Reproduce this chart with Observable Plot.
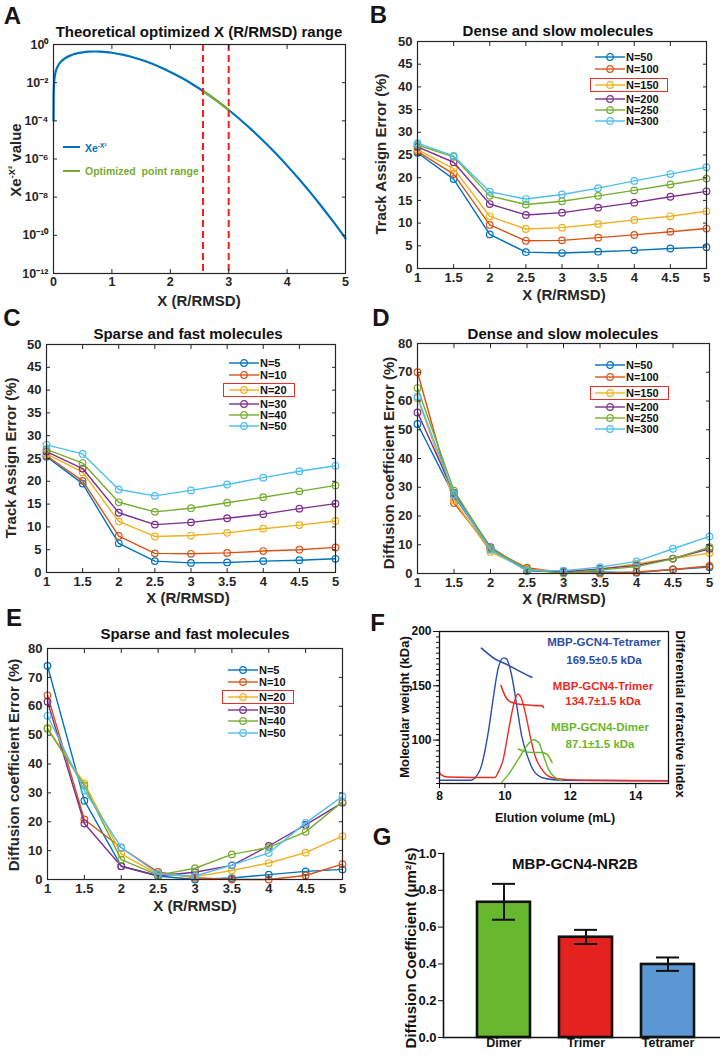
<!DOCTYPE html>
<html><head><meta charset="utf-8">
<script src="https://cdn.jsdelivr.net/npm/d3@7"></script>
<script src="https://cdn.jsdelivr.net/npm/@observablehq/plot@0.6"></script>
<style>
body{margin:0;background:#fff;}
#fig{position:relative;width:723px;height:1057px;overflow:hidden;background:#fff;font-family:"Liberation Sans",Arial,sans-serif;font-weight:bold;}
.abs{position:absolute;white-space:nowrap;line-height:1;}
.c{transform:translate(-50%,-50%);}
.letter{font-size:24px;color:#151515;}
.title{font-size:15px;color:#111;}
.xlab{font-size:15px;color:#262626;}
.ylab{font-size:15px;color:#262626;transform:translate(-50%,-50%) rotate(-90deg);}
.ylabr{transform:translate(-50%,-50%) rotate(90deg);}
.leg{font-size:11px;color:#111;transform:translateY(-50%);}
sup{font-size:0.62em;vertical-align:0.55em;line-height:0;}
</style></head>
<body><div id="fig"></div>
<script>
// ---------------- DATA ----------------
// Panel A: X·e^(-X²)
const aX = [0.0001,0.002,0.01,0.03,0.06,0.1,0.2,0.3,0.4,0.5,0.6,0.707,0.8,0.9,1.0,1.2,1.4,1.6,1.8,2.0,2.2,2.4,2.56,2.8,3.0,3.2,3.4,3.6,3.8,4.0,4.2,4.4,4.6,4.8,5.0];
const aY = [1e-4,2e-3,0.01,0.03,0.06,0.099,0.192,0.274,0.341,0.389,0.419,0.429,0.422,0.400,0.368,0.284,0.197,0.124,0.0706,0.0366,0.0174,0.00757,0.00365,0.0011,0.00037,1.14e-4,3.24e-5,8.47e-6,2.04e-6,4.5e-7,9.16e-8,1.72e-8,2.97e-9,4.73e-10,6.94e-11];
const optX = [2.56,2.7,2.8,2.9,3.0];
const optY = [0.00365,0.00184,0.0011,0.000646,0.00037];
const rangeBounds = [2.56,3.0];
const aYTicks = [1,1e-2,1e-4,1e-6,1e-8,1e-10,1e-12];
const aXTicks = [0,1,2,3,4,5];

// Panels B–E
const xR = [1,1.5,2,2.5,3,3.5,4,4.5,5];
const denseN = ["N=50","N=100","N=150","N=200","N=250","N=300"];
const sparseN = ["N=5","N=10","N=20","N=30","N=40","N=50"];
const trackDense = [
  [25.5,19.7,7.5,3.6,3.4,3.7,4.0,4.4,4.7],
  [25.8,20.8,9.6,6.1,6.2,6.8,7.4,8.1,8.8],
  [26.2,22.0,11.5,8.7,9.0,9.8,10.7,11.5,12.6],
  [26.8,23.4,14.2,11.8,12.3,13.4,14.5,15.8,17.0],
  [27.2,24.6,16.0,14.1,14.8,16.0,17.2,18.5,19.8],
  [27.6,24.8,16.9,15.3,16.3,17.7,19.3,20.8,22.3]
];
const trackSparse = [
  [25.4,19.5,6.4,2.5,2.1,2.2,2.5,2.7,3.0],
  [25.6,20.1,8.0,4.2,4.1,4.3,4.7,5.0,5.5],
  [26.0,22.0,11.2,7.9,8.1,8.7,9.6,10.4,11.3],
  [26.5,22.8,13.1,10.5,11.0,11.9,12.8,14.0,15.1],
  [27.0,24.0,15.4,13.3,14.1,15.3,16.5,17.8,19.1],
  [28.0,26.0,18.2,16.8,18.0,19.3,20.8,22.2,23.4]
];
const diffDense = [
  [52.0,27.0,8.5,1.0,0.8,0.5,0.3,1.4,2.2],
  [70.0,24.5,8.5,2.0,0.3,0.0,0.5,1.4,2.6],
  [61.0,25.5,7.5,1.5,0.5,1.5,3.4,5.2,7.1],
  [56.0,28.0,9.2,1.0,0.5,1.6,2.8,5.2,8.6],
  [64.5,28.8,8.8,1.5,0.0,1.2,2.4,5.1,9.2],
  [61.5,27.5,8.2,1.0,1.0,2.2,4.2,8.6,12.9]
];
const diffSparse = [
  [74.0,27.3,4.6,1.2,0.0,0.5,1.7,2.8,3.5],
  [63.8,20.8,11.0,2.6,0.6,0.0,0.0,1.4,5.3],
  [52.5,33.3,8.9,1.8,1.0,3.1,5.7,9.3,15.0],
  [61.6,19.4,4.6,1.3,2.5,4.9,11.6,18.9,26.6],
  [52.2,32.5,6.9,1.5,3.9,8.7,11.1,16.5,26.9],
  [56.7,30.8,11.1,2.0,1.2,5.0,9.2,19.6,28.8]
];
const trackTicks = [0,5,10,15,20,25,30,35,40,45,50];
const diffTicks = [0,10,20,30,40,50,60,70,80];

// Panel F: SEC-MALS traces [elution volume, value]
const tetramerRI = [[8.0,63],[8.97,63],[9.08,65],[9.28,76],[9.49,107],[9.64,138],[9.79,165.5],[9.95,175.7],[10.05,174.8],[10.21,159],[10.36,132],[10.51,104],[10.72,82.5],[10.92,70],[11.23,64.6],[11.74,63],[15.0,62.5]];
const tetramerMW = [[9.28,184.6],[9.69,174.8],[10.1,169],[10.41,164],[10.82,157.8]];
const trimerRI = [[8.0,70],[8.05,68],[8.26,66],[9.69,65.5],[9.79,70],[9.95,82.5],[10.1,107],[10.26,131.7],[10.39,142.5],[10.49,139.4],[10.62,125.5],[10.77,104],[10.92,85.5],[11.13,73],[11.38,66],[11.74,64],[12.46,63],[15.0,62.5]];
const trimerMW = [[9.88,150.2],[10.0,141],[10.15,135.4],[10.41,133.2],[10.72,132.3],[10.92,131.7],[11.13,131.7],[11.18,130]];
const dimerRI = [[9.9,61],[10.15,70],[10.41,82.5],[10.67,94.8],[10.87,100.3],[11.03,97.8],[11.18,85.5],[11.33,73],[11.54,65.5],[11.74,62.5]];
const dimerMW = [[10.41,91.7],[10.62,89.2],[10.82,88.6],[11.13,88.6],[11.28,87],[11.44,79.4]];
const fXTicks = [8,10,12,14];
const fYTicks = [100,150,200];

// Panel G
const gCats = ["Dimer","Trimer","Tetramer"];
const gMeans = [0.735,0.545,0.397];
const gLow = [0.640,0.508,0.362];
const gHigh = [0.835,0.585,0.435];
const gTicks = [0,0.2,0.4,0.6,0.8,1.0];

// ---------------- STYLE ----------------
const matlab = ["#0072BD","#D95319","#EDB120","#7E2F8E","#77AC30","#4DBEEE"];
const fColors = {tet:"#2B4EA6", tri:"#EC2A25", di:"#68B82C"};
const gColors = ["#67B82D","#E4231F","#5B98D3"];
const AX = "#262626";
const FONT = '"Liberation Sans", Arial, sans-serif';

const fig = document.getElementById("fig");
function txt(html, x, y, cls, css = "") {
  const d = document.createElement("div");
  d.className = "abs " + cls;
  d.innerHTML = html;
  d.style.cssText = `left:${x}px;top:${y}px;` + css;
  fig.appendChild(d);
  return d;
}
function frameBox(f, pad) {
  return {x0: f[0]-pad[0], y0: f[1]-pad[1], width: f[2]-f[0]+pad[0]+pad[2], height: f[3]-f[1]+pad[1]+pad[3],
          marginLeft: pad[0], marginTop: pad[1], marginRight: pad[2], marginBottom: pad[3]};
}
function place(svg, b) {
  svg.style.position = "absolute";
  svg.style.left = b.x0 + "px";
  svg.style.top = b.y0 + "px";
  fig.appendChild(svg);
}
function plotIn(b, opts) {
  const {x0, y0, ...dims} = b;
  const svg = Plot.plot({...dims, ...opts,
    style: {fontFamily: FONT, fontWeight: "bold", fontSize: "13px", background: "transparent", overflow: "visible", color: AX}});
  place(svg, b);
  return svg;
}
function boxAxes(xt, yt, fx, fy, fs) {
  return [
    Plot.frame({stroke: AX, strokeWidth: 1.2}),
    Plot.axisX({ticks: xt, anchor: "bottom", tickSize: -4, tickPadding: 8, tickFormat: fx, fontSize: fs, color: AX, label: null}),
    Plot.axisX({ticks: xt, anchor: "top", tickSize: -4, tickFormat: () => "", color: AX, label: null}),
    Plot.axisY({ticks: yt, anchor: "left", tickSize: -4, tickPadding: 9, tickFormat: fy, fontSize: fs, color: AX, label: null}),
    Plot.axisY({ticks: yt, anchor: "right", tickSize: -4, tickFormat: () => "", color: AX, label: null})
  ];
}
function seriesMarks(vals) {
  return vals.flatMap((row, i) => {
    const d = xR.map((x, j) => ({x, y: row[j]}));
    return [
      Plot.line(d, {x: "x", y: "y", stroke: matlab[i], strokeWidth: 1.4}),
      Plot.dot(d, {x: "x", y: "y", stroke: matlab[i], r: 3.3, strokeWidth: 1.2, fill: "none"})
    ];
  });
}
function legend(names, lx, rows, rect) {
  names.forEach((n, i) => {
    const y = rows[i];
    fig.insertAdjacentHTML("beforeend",
      `<svg width="30" height="10" style="position:absolute;left:${lx}px;top:${y-5}px;overflow:visible">
        <line x1="0" y1="5" x2="30" y2="5" stroke="${matlab[i]}" stroke-width="1.4"/>
        <circle cx="15" cy="5" r="3.3" fill="none" stroke="${matlab[i]}" stroke-width="1.2"/></svg>`);
    txt(n, lx + 31, y, "leg");
  });
  const [x1, y1, x2, y2] = rect;
  fig.insertAdjacentHTML("beforeend",
    `<div style="position:absolute;left:${x1}px;top:${y1}px;width:${x2-x1}px;height:${y2-y1}px;border:1.5px solid #E5312B;box-sizing:border-box"></div>`);
}
const num = d => String(d);

// ---------------- PANEL A ----------------
const sup = {"-":"⁻","0":"⁰","1":"¹","2":"²","3":"³","4":"⁴","5":"⁵","6":"⁶","7":"⁷","8":"⁸","9":"⁹"};
const fmtPow = d => "10" + String(Math.round(Math.log10(d))).split("").map(c => sup[c]).join("");
{
  const b = frameBox([53, 44, 345, 273], [53, 8, 12, 22]);
  const curve = aX.map((x, i) => ({x, y: aY[i]}));
  const opt = optX.map((x, i) => ({x, y: optY[i]}));
  plotIn(b, {
    x: {domain: [0, 5]},
    y: {type: "log", domain: [1e-12, 1]},
    marks: [
      Plot.line(curve, {x: "x", y: "y", stroke: "#0072BD", strokeWidth: 2.2, curve: "monotone-x"}),
      Plot.line(opt, {x: "x", y: "y", stroke: "#77AC30", strokeWidth: 2.2, curve: "monotone-x"}),
      Plot.ruleX(rangeBounds, {stroke: "#FF1A1A", strokeWidth: 2, strokeDasharray: "7,4"}),
      ...boxAxes(aXTicks, aYTicks, num, fmtPow, 12.5)
    ]
  });
  txt("A", 12.5, 16, "letter c");
  txt("Theoretical optimized X (R/RMSD) range", 199, 31, "title c");
  txt("X (R/RMSD)", 199, 300, "xlab c");
  txt("Xe<sup>-X²</sup> value", 15, 160, "ylab");
  fig.insertAdjacentHTML("beforeend",
    `<svg width="20" height="30" style="position:absolute;left:63px;top:142px;overflow:visible">
      <line x1="0" y1="5" x2="17" y2="5" stroke="#0072BD" stroke-width="2"/>
      <line x1="0" y1="29" x2="17" y2="29" stroke="#77AC30" stroke-width="2"/></svg>`);
  txt("Xe<sup>-X²</sup>", 85, 148, "", "font-size:10.5px;color:#0072BD;transform:translateY(-50%)");
  txt("Optimized&nbsp; point range", 85, 171, "", "font-size:10.5px;color:#77AC30;transform:translateY(-50%)");
}

// ---------------- PANEL B ----------------
{
  const b = frameBox([417, 41, 706, 268], [45, 6, 10, 22]);
  plotIn(b, {
    x: {domain: [1, 5]}, y: {domain: [0, 50]},
    marks: [...seriesMarks(trackDense), ...boxAxes(xR, trackTicks, num, num, 13)]
  });
  txt("B", 378.5, 15, "letter c");
  txt("Dense and slow molecules", 558, 30, "title c");
  txt("X (R/RMSD)", 564, 294, "xlab c");
  txt("Track Assign Error (%)", 380, 154, "ylab");
  legend(denseN, 595, [57, 69, 85, 99, 110, 121], [590, 78, 668, 92]);
}

// ---------------- PANEL C ----------------
{
  const b = frameBox([46, 344, 335, 572], [46, 6, 10, 22]);
  plotIn(b, {
    x: {domain: [1, 5]}, y: {domain: [0, 50]},
    marks: [...seriesMarks(trackSparse), ...boxAxes(xR, trackTicks, num, num, 13)]
  });
  txt("C", 12, 317.5, "letter c");
  txt("Sparse and fast molecules", 188, 333, "title c");
  txt("X (R/RMSD)", 188, 597, "xlab c");
  txt("Track Assign Error (%)", 10, 458, "ylab");
  legend(sparseN, 229, [363, 375, 390, 404, 415, 426], [223, 383, 295, 397]);
}

// ---------------- PANEL D ----------------
{
  const b = frameBox([417, 343, 709, 573], [45, 6, 8, 22]);
  plotIn(b, {
    x: {domain: [1, 5]}, y: {domain: [0, 80]},
    marks: [...seriesMarks(diffDense), ...boxAxes(xR, diffTicks, num, num, 13)]
  });
  txt("D", 381, 318, "letter c");
  txt("Dense and slow molecules", 563, 333, "title c");
  txt("X (R/RMSD)", 564, 598, "xlab c");
  txt("Diffusion coefficient Error (%)", 388, 463, "ylab");
  legend(denseN, 595, [365, 377, 393, 407, 418, 429], [590, 386, 669, 400]);
}

// ---------------- PANEL E ----------------
{
  const b = frameBox([47, 648, 342, 879], [47, 6, 10, 22]);
  plotIn(b, {
    x: {domain: [1, 5]}, y: {domain: [0, 80]},
    marks: [...seriesMarks(diffSparse), ...boxAxes(xR, diffTicks, num, num, 13)]
  });
  txt("E", 14, 618, "letter c");
  txt("Sparse and fast molecules", 195, 633, "title c");
  txt("X (R/RMSD)", 195, 905, "xlab c");
  txt("Diffusion coefficient Error (%)", 13, 765, "ylab");
  legend(sparseN, 228, [670, 682, 697, 710, 721, 733], [222, 690, 294, 704]);
}

// ---------------- PANEL F ----------------
{
  const b = frameBox([439, 631, 668, 783], [44, 8, 17, 22]);
  const P = a => a.map(([x, y]) => ({x, y}));
  const lineOpts = (c, w) => ({x: "x", y: "y", stroke: c, strokeWidth: w, curve: "monotone-x"});
  plotIn(b, {
    x: {domain: [8, 15]}, y: {domain: [60, 200]},
    marks: [
      Plot.line(P(tetramerRI), lineOpts(fColors.tet, 1.4)),
      Plot.line(P(trimerRI), lineOpts(fColors.tri, 1.4)),
      Plot.line(P(dimerRI), lineOpts(fColors.di, 1.4)),
      Plot.line(P(tetramerMW), lineOpts(fColors.tet, 1.6)),
      Plot.line(P(trimerMW), lineOpts(fColors.tri, 1.6)),
      Plot.line(P(dimerMW), lineOpts(fColors.di, 1.6)),
      Plot.frame({stroke: "#111", strokeWidth: 1.3}),
      Plot.axisY({ticks: d3.range(60, 201, 5), anchor: "left", tickSize: 3, tickFormat: () => "", color: "#111", label: null}),
      Plot.axisY({ticks: fYTicks, anchor: "left", tickSize: 6, tickPadding: 2, tickFormat: num, fontSize: 12, color: "#111", label: null}),
      Plot.axisX({ticks: fXTicks, anchor: "bottom", tickSize: 5, tickPadding: 3, tickFormat: num, fontSize: 12, color: "#111", label: null})
    ]
  });
  txt("F", 377.5, 622.5, "letter c");
  txt("Elution volume (mL)", 555, 818, "c", "font-size:12.5px;color:#111");
  txt("Molecular weight (kDa)", 404, 707, "ylab", "font-size:13px;color:#111");
  txt("Differential refractive index", 680, 714, "ylabr", "font-size:13px;color:#111");
  txt("MBP-GCN4-Tetramer", 604, 643, "c", `font-size:11.5px;color:${fColors.tet}`);
  txt("169.5±0.5 kDa", 604, 661, "c", `font-size:11.5px;color:${fColors.tet}`);
  txt("MBP-GCN4-Trimer", 603, 687, "c", `font-size:11.5px;color:${fColors.tri}`);
  txt("134.7±1.5 kDa", 603, 702, "c", `font-size:11.5px;color:${fColors.tri}`);
  txt("MBP-GCN4-Dimer", 600, 728, "c", `font-size:11.5px;color:${fColors.di}`);
  txt("87.1±1.5 kDa", 600, 745, "c", `font-size:11.5px;color:${fColors.di}`);
}

// ---------------- PANEL G ----------------
{
  const b = frameBox([443, 853, 720, 1037], [55, 8, 3, 20]);
  const g = gCats.map((c, i) => ({cat: c, mean: gMeans[i], lo: gLow[i], hi: gHigh[i]}));
  plotIn(b, {
    x: {type: "band", domain: gCats, range: [58.5, 335.5], padding: 0.358},
    y: {domain: [0, 1]},
    color: {domain: gCats, range: gColors},
    marks: [
      Plot.barY(g, {x: "cat", y: "mean", fill: "cat", stroke: "#111", strokeWidth: 2.6}),
      Plot.ruleX(g, {x: "cat", y1: "lo", y2: "hi", stroke: "#111", strokeWidth: 2}),
      Plot.tickY(g, {x: "cat", y: "lo", stroke: "#111", strokeWidth: 2, insetLeft: 15, insetRight: 15}),
      Plot.tickY(g, {x: "cat", y: "hi", stroke: "#111", strokeWidth: 2, insetLeft: 15, insetRight: 15}),
      Plot.frame({anchor: "left", stroke: "#111", strokeWidth: 1.6}),
      Plot.ruleY([0], {stroke: "#111", strokeWidth: 1.6}),
      Plot.axisY({ticks: gTicks, anchor: "left", tickSize: 5, tickPadding: 2, tickFormat: d3.format(".1f"), fontSize: 13, color: "#111", label: null}),
      Plot.axisX({anchor: "bottom", tickSize: 0, tickPadding: 1, fontSize: 12.5, color: "#111", label: null})
    ]
  });
  txt("G", 382, 837, "letter c");
  txt("MBP-GCN4-NR2B", 575, 863, "title c");
  txt("Diffusion Coefficient (μm²/s)", 410, 948, "ylab", "color:#111");
}
</script>
</body></html>
